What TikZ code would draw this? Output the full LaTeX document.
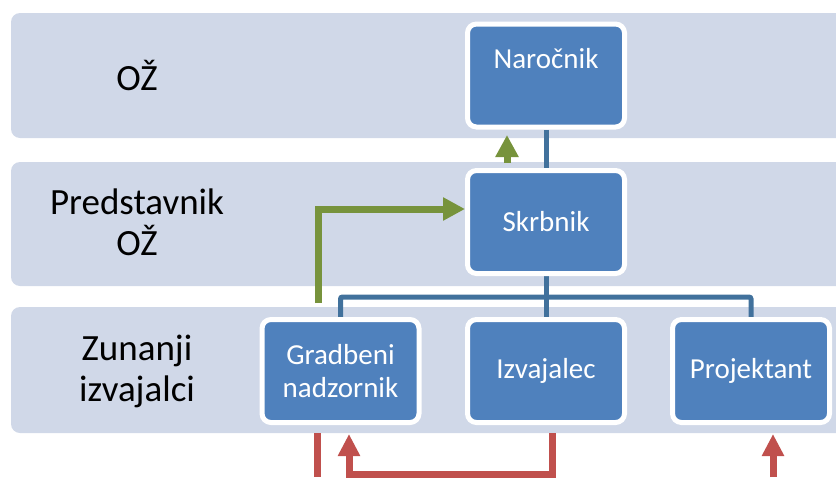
\documentclass[tikz,border=0pt]{standalone}
\usepackage{fontspec}
\setmainfont{Carlito}
\usetikzlibrary{arrows.meta,backgrounds,calc}
\definecolor{bandfill}{HTML}{D0D8E8}
\definecolor{boxblue}{HTML}{4F81BD}
\definecolor{treeblue}{HTML}{41719C}
\definecolor{arrgreen}{HTML}{77933C}
\definecolor{arrred}{HTML}{C0504D}

\begin{document}
\begin{tikzpicture}[x=1pt, y=-1pt,
    box/.style={draw=white, line width=5pt, fill=boxblue, rounded corners=9pt,
      minimum width=157pt, minimum height=103pt, text=white, align=center,
      font=\fontsize{29}{33}\selectfont},
    lbl/.style={align=center, font=\fontsize{37}{41}\selectfont},
    tree/.style={draw=treeblue, line width=5pt},
    grarrow/.style={draw=arrgreen, line width=7pt, -{Triangle[width=22pt,length=22pt]}},
    rdline/.style={draw=arrred, line width=7pt},
    rdarrow/.style={rdline, -{Triangle[width=21pt,length=22pt]}}]
  \useasboundingbox (0,0) rectangle (836,477);
  % levels
  \begin{scope}[on background layer]
    \foreach \t/\b in {13/138, 162/286, 307/433}
      \fill[bandfill, rounded corners=9pt] (11,\t) rectangle (850,\b);
  \end{scope}
  \node[lbl] (ozlbl) at (137,75) {OŽ};
  \node[lbl] (predlbl) at (137,222) {Predstavnik\\OŽ};
  \node[lbl] (zunlbl) at (137,371) {Zunanji\\izvajalci};
  % organisation
  \node[box, text height=20pt, text depth=34pt] (naro) at (546,75.5) {Naročnik};
  \node[box] (skrb) at (546,222) {Skrbnik};
  \node[box] (grad) at (340.5,371) {Gradbeni\\nadzornik};
  \node[box] (izva) at (546,371) {Izvajalec};
  \node[box] (proj) at (751,371) {Projektant};
  \coordinate (busR) at (proj.north |- 0,297);
  \begin{scope}[on background layer]
    \draw[tree] (naro) -- (skrb);
    \draw[tree, rounded corners=2pt] (grad) |- (busR) -- (proj);
    \draw[tree] (skrb) -- (izva);
  \end{scope}
  % reporting
  \coordinate (gstart) at (318,303);
  \draw[grarrow] ($(skrb.north)+(-39,-5.5)$) -- ($(naro.south)+(-39,5.5)$);
  \draw[grarrow] (gstart) |- ($(skrb.west)+(0,-13)$);
  \coordinate (rb1) at (317,477);
  \coordinate (rb2) at (552,474);
  \coordinate (rb3) at (349,474);
  \coordinate (rb4) at (773,477);
  \draw[rdline] ($(grad.south -| rb1)+(0,8)$) -- (rb1);
  \draw[rdarrow] ($(izva.south -| rb2)+(0,8)$) -- (rb2) -- (rb3) -- ($(grad.south -| rb3)+(0,9)$);
  \draw[rdarrow] (rb4) -- ($(proj.south -| rb4)+(0,9)$);
\end{tikzpicture}
\end{document}
